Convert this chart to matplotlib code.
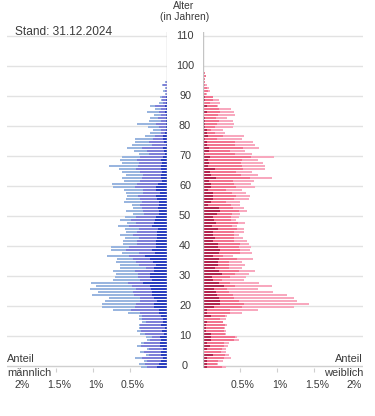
import numpy as np
import matplotlib
matplotlib.use("Agg")
import matplotlib.pyplot as plt
from matplotlib.transforms import blended_transform_factory, ScaledTranslation

plt.rcParams["font.family"] = ["Liberation Sans", "DejaVu Sans"]

# Anteil an der Gesamtbevoelkerung in %, je Alter; drei Gruppen je Geschlecht
# (innen dunkel, Mitte, aussen hell)
ages_m = np.arange(0, 96)
male_dark = [.135, .113, .077, .059, .086, .077, .059, .090, .090, .081,
             .095, .041, .068, .027, .081, .054, .054, .081, .108, .108,
             .176, .176, .135, .176, .203, .203, .216, .230, .324, .203,
             .230, .230, .176, .176, .149, .189, .230, .297, .162, .203,
             .149, .149, .149, .135, .135, .135, .122, .203, .176, .162,
             .149, .108, .108, .122, .108, .108, .135, .149, .095, .149,
             .149, .122, .068, .081, .081, .068, .081, .081, .068, .081,
             .054, .027, .041, .054, .014, .041, .054, .054, .027, .014,
             .014, .014, .014, .014, .014, .027, .014, .027, .014, .014,
             .014, 0, 0, 0, 0, 0]
male_mid = [.131, .189, .189, .279, .153, .234, .185, .261, .225, .149,
            .108, .257, .284, .338, .284, .230, .284, .257, .257, .378,
            .257, .243, .230, .189, .243, .257, .203, .243, .203, .162,
            .162, .162, .257, .108, .230, .230, .230, .216, .216, .351,
            .365, .257, .257, .243, .324, .270, .257, .311, .243, .324,
            .270, .203, .216, .216, .257, .230, .230, .243, .230, .176,
            .284, .284, .297, .257, .243, .297, .338, .311, .311, .324,
            .311, .216, .230, .284, .189, .203, .135, .108, .054, .068,
            .095, .135, .068, .108, .068, .081, .068, .135, .041, .054,
            .054, .014, .027, .014, .054, .014]
male_light = [.086, .077, .045, .095, .045, .054, .027, .054, .036, .041,
              .081, .068, .054, .014, .014, .054, .041, .041, .162, .243,
              .446, .459, .473, .419, .568, .473, .622, .486, .500, .365,
              .311, .297, .297, .351, .257, .270, .216, .297, .230, .203,
              .243, .189, .189, .189, .176, .149, .189, .149, .122, .149,
              .149, .149, .230, .122, .108, .243, .189, .149, .230, .257,
              .297, .338, .216, .270, .230, .243, .230, .392, .230, .230,
              .243, .135, .176, .203, .270, .189, .243, .135, .149, .108,
              .149, .257, .162, .108, .095, .162, .081, .068, .054, .014,
              .027, .014, .027, .014, .014, .014]

ages_f = np.arange(0, 100)
female_dark = [.054, .054, .054, .054, .135, .014, .054, .095, .054, .108,
               .108, .108, .041, .041, .041, .054, 0, .108, .054, .054,
               .149, .230, .230, .216, .189, .176, .149, .284, .216, .135,
               .122, .257, .216, .162, .203, .203, .216, .135, .216, .230,
               .203, .203, .135, .162, .135, .135, .203, .122, .176, .149,
               .135, .189, .230, .216, .068, .108, .135, .135, .135, .068,
               .108, .108, .081, .176, .108, .095, .162, .068, .081, .068,
               .095, .027, .081, .081, .054, .054, .027, .068, .054, .054,
               .027, .027, .027, .027, 0, .054, 0, .054, 0, .027,
               .027, 0, 0, 0, 0, 0, 0, 0, 0, 0]
female_mid = [.203, .135, .149, .230, .162, .230, .203, .189, .230, .311,
              .324, .189, .243, .243, .257, .216, .230, .189, .311, .311,
              .378, .324, .257, .203, .216, .176, .176, .149, .149, .122,
              .243, .176, .270, .189, .149, .149, .243, .135, .284, .270,
              .284, .297, .284, .257, .284, .284, .257, .270, .297, .230,
              .243, .203, .257, .189, .311, .203, .284, .311, .257, .243,
              .338, .311, .324, .459, .405, .351, .378, .459, .432, .459,
              .554, .405, .284, .459, .378, .378, .162, .203, .108, .054,
              .135, .162, .189, .149, .203, .176, .216, .135, .095, .108,
              .108, .041, .068, .054, .027, .027, .027, .041, .027, 0]
female_light = [.054, .014, .068, .095, .054, .068, .054, .054, .068, .068,
                .027, .014, .027, .014, .027, 0, .081, .027, .162, .378,
                .703, .878, .784, .811, .730, .595, .419, .500, .392, .297,
                .216, .189, .216, .176, .216, .176, .216, .135, .162, .135,
                .162, .122, .176, .122, .068, .135, .095, .068, .095, .068,
                .108, .108, .108, .149, .122, .189, .203, .189, .189, .216,
                .257, .230, .284, .297, .230, .216, .297, .311, .297, .216,
                .311, .230, .203, .216, .270, .243, .338, .284, .135, .162,
                .243, .230, .189, .149, .230, .189, .162, .014, .135, .081,
                0, .014, .027, .027, .027, 0, 0, 0, 0, .014]

age_ticks = np.arange(0, 111, 10)
pct_ticks = [0.5, 1.0, 1.5, 2.0]
pct_labels = ["0.5%", "1%", "1.5%", "2%"]

m_cols = ["#2b3ebf", "#7f80d8", "#99b5df"]
f_cols = ["#b3264f", "#f2738f", "#f8a8be"]
txt = "#3a3a3a"
grid_c = "#e2e2e2"

W, H = 375, 416
fig = plt.figure(figsize=(W / 100, H / 100), dpi=100)
bot, top = (H - 368) / H, (H - 32) / H
ax_m = fig.add_axes([7 / W, bot, 160 / W, top - bot])
ax_f = fig.add_axes([203 / W, bot, 160 / W, top - bot])

xmax = 160 / 74.0  # axis extent in %
for ax, ages, segs, cols in (
        (ax_m, ages_m, (male_dark, male_mid, male_light), m_cols),
        (ax_f, ages_f, (female_dark, female_mid, female_light), f_cols)):
    left = np.zeros(len(ages))
    for seg, c in zip(segs, cols):
        seg = np.asarray(seg)
        ax.barh(ages - 0.3, seg, left=left, height=0.72, color=c,
                linewidth=0, zorder=3)
        left = left + seg
    ax.set_ylim(-0.77, 111.23)
    for a in age_ticks:
        ax.axhline(a, color=grid_c if a else "#cfcfcf", lw=1, zorder=1)
    for s in ax.spines.values():
        s.set_visible(False)
    ax.set_yticks([])
    ax.set_xticks(pct_ticks)
    ax.set_xticklabels(pct_labels, fontsize=7.6, color=txt)
    ax.tick_params(axis="x", length=3, width=0.8, color="#cfcfcf", pad=5.5)
    for lab in ax.get_xticklabels():
        lab.set_transform(lab.get_transform()
                          + ScaledTranslation(3 / 100, 0, fig.dpi_scale_trans))

ax_m.set_xlim(xmax, 0)
ax_f.set_xlim(0, xmax)
ax_m.axvline(0, color="#c4c4c4", lw=1, zorder=4)
ax_f.axvline(0, color="#c4c4c4", lw=1, zorder=4)

tr = blended_transform_factory(ax_m.transAxes, ax_m.transData)
for a in age_ticks:
    ax_m.text(178 / 160, a, str(a), transform=tr, ha="center", va="center",
              fontsize=7.8, color=txt)

fig.text(184 / W, 1 - 9 / H, "Alter", ha="center", va="baseline",
         fontsize=7.4, color=txt)
fig.text(185 / W, 1 - 20 / H, "(in Jahren)", ha="center", va="baseline",
         fontsize=7.4, color=txt)
fig.text(15 / W, 1 - 35 / H, "Stand: 31.12.2024", ha="left", va="baseline",
         fontsize=8.6, color=txt)
fig.text(7 / W, 1 - 362 / H, "Anteil", ha="left", va="baseline",
         fontsize=7.9, color=txt)
fig.text(7 / W, 1 - 376 / H, "männlich", ha="left", va="baseline",
         fontsize=7.9, color=txt)
fig.text(363 / W, 1 - 362 / H, "Anteil", ha="right", va="baseline",
         fontsize=7.9, color=txt)
fig.text(363 / W, 1 - 376 / H, "weiblich", ha="right", va="baseline",
         fontsize=7.9, color=txt)

fig.savefig("out.png", dpi=100)
